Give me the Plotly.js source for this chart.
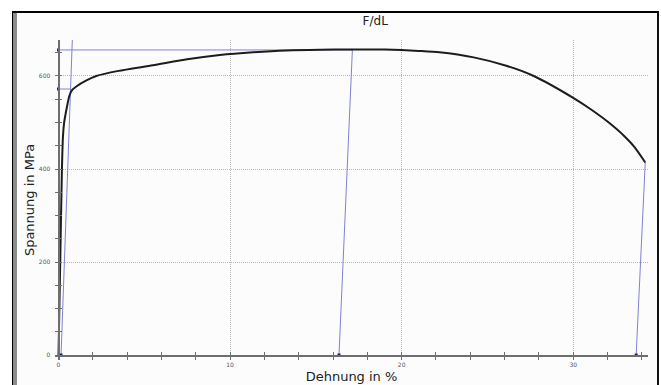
<!DOCTYPE html>
<html>
<head>
<meta charset="utf-8">
<script src="https://cdn.plot.ly/plotly-3.0.1.min.js"></script>
<style>
  html, body { margin:0; padding:0; background:#ffffff; }
  #wrap { position:relative; width:661px; height:385px; overflow:hidden; }
  #frame { position:absolute; left:12px; top:11px; width:644px; height:380px;
           background:#fcfcfc; border-top:2px solid #000; border-right:2px solid #111;
           border-left:1px solid #000; box-sizing:content-box; }
  #strip { position:absolute; left:13px; top:13px; width:4px; height:380px; background:#8c8c8c; }
  #chart { position:absolute; left:0; top:0; width:661px; height:385px; }
</style>
</head>
<body>
<div id="wrap">
  <div id="frame"></div>
  <div id="strip"></div>
  <div id="chart"></div>
</div>
<script>
// Stress-strain curve (Dehnung in %, Spannung in MPa)
const strain = [0, 0.1, 0.2, 0.26, 0.33, 0.5, 0.63, 0.8, 1.06, 1.6, 2.2, 3.5, 5.5, 7.5, 9.4, 11.35, 13.3, 15.25, 17, 19, 20, 21, 22.2, 24.2, 26.1, 27.7, 30.0, 31.0, 32.0, 33.0, 33.6, 34.2];
const stress = [0, 200, 400, 470, 500, 535, 557, 570, 578, 590, 600, 611, 623, 636, 645, 651, 655, 656.5, 657, 657, 656, 654, 651, 640, 622, 600, 553, 529, 502, 470, 446, 414];

// Evaluation construction lines (blue)
const rpLineX = [0.15, 0.81];   const rpLineY = [0, 682];
const rpHorizX = [0, 0.70];     const rpHorizY = [572, 572];
const rmHorizX = [0, 17.13];    const rmHorizY = [656, 656];
const rmLineX = [16.35, 17.13]; const rmLineY = [0, 656];
const brLineX = [33.67, 34.2];  const brLineY = [0, 414];
const markX = [0, 0, 0.15, 16.35, 33.67];
const markY = [656, 572, 0, 0, 0];

// Axis ticks
const xMajor = [0, 10, 20, 30];
const xMajorText = ['0', '10', '20', '30'];
const xMinor = [2, 4, 6, 8, 12, 14, 16, 18, 22, 24, 26, 28, 32, 34];
const yMajor = [0, 200, 400, 600];
const yMajorText = ['0', '200', '400', '600'];
const yMinor = [50, 100, 150, 250, 300, 350, 450, 500, 550, 650];

const blue = '#7f82d2';
const axCol = '#6e6e6e';
const gridCol = '#b8b8b8';

const lineTrace = (x, y) => ({x, y, type:'scatter', mode:'lines', line:{color:blue, width:1}, hoverinfo:'skip', showlegend:false});

const data = [
  lineTrace(rpLineX, rpLineY),
  lineTrace(rpHorizX, rpHorizY),
  lineTrace(rmHorizX, rmHorizY),
  lineTrace(rmLineX, rmLineY),
  lineTrace(brLineX, brLineY),
  {x: strain, y: stress, type:'scatter', mode:'lines', line:{color:'#1c1c1c', width:2, shape:'spline', smoothing:0.6}, showlegend:false},
  {x: markX, y: markY, type:'scatter', mode:'markers', marker:{symbol:'square', size:3, color:'#1d1d8a'}, showlegend:false},
  // overlay axis to get inside ticks
  {x:[0], y:[0], xaxis:'x2', yaxis:'y2', type:'scatter', mode:'markers', marker:{opacity:0}, showlegend:false, hoverinfo:'skip'}
];

const xr = [-0.204, 34.36];
const yr = [-10.75, 677.4];
const tickFont = {family:'DejaVu Sans, Verdana, sans-serif', size:6, color:'#555'};

const layout = {
  width:661, height:385,
  margin:{l:55, r:13, t:40, b:25, pad:0},
  paper_bgcolor:'rgba(0,0,0,0)', plot_bgcolor:'rgba(0,0,0,0)',
  title:{text:'F/dL', x:0.54, xanchor:'center', xref:'paper', y:0.945, yanchor:'middle', yref:'container',
         font:{family:'DejaVu Sans, Verdana, sans-serif', size:12, color:'#222'}},
  xaxis:{range:xr, anchor:'free', position:0.0156,
         tickvals:xMajor, ticktext:xMajorText, tickfont:tickFont,
         ticks:'outside', ticklen:3, tickcolor:axCol, tickwidth:1,
         minor:{tickvals:xMinor, ticks:'outside', ticklen:3, tickcolor:axCol, showgrid:false},
         showgrid:true, gridcolor:gridCol, griddash:'1px,1px', gridwidth:1,
         showline:true, linecolor:axCol, linewidth:1.5, zeroline:false,
         title:{text:'Dehnung in %', standoff:5, font:{family:'DejaVu Sans, Verdana, sans-serif', size:13, color:'#222'}}},
  yaxis:{range:yr, anchor:'free', position:0.0059,
         tickvals:yMajor, ticktext:yMajorText, tickfont:tickFont,
         ticks:'outside', ticklen:3, tickcolor:axCol, tickwidth:1, ticklabelstandoff:4,
         minor:{tickvals:yMinor, ticks:'outside', ticklen:3, tickcolor:axCol, showgrid:false},
         showgrid:true, gridcolor:gridCol, griddash:'1px,1px', gridwidth:1,
         showline:true, linecolor:axCol, linewidth:1.5, zeroline:false,
         title:{text:'Spannung in MPa', standoff:0, font:{family:'DejaVu Sans, Verdana, sans-serif', size:13, color:'#222'}}},
  xaxis2:{overlaying:'x', matches:'x', anchor:'free', position:0.0156, showticklabels:false, showgrid:false, showline:false, zeroline:false,
          tickvals:xMajor.concat(xMinor), ticks:'inside', ticklen:3, tickcolor:axCol},
  yaxis2:{overlaying:'y', matches:'y', anchor:'free', position:0.0059, showticklabels:false, showgrid:false, showline:false, zeroline:false,
          tickvals:yMajor.concat(yMinor), ticks:'inside', ticklen:3, tickcolor:axCol}
};

Plotly.newPlot('chart', data, layout, {displayModeBar:false, staticPlot:true});
</script>
</body>
</html>
